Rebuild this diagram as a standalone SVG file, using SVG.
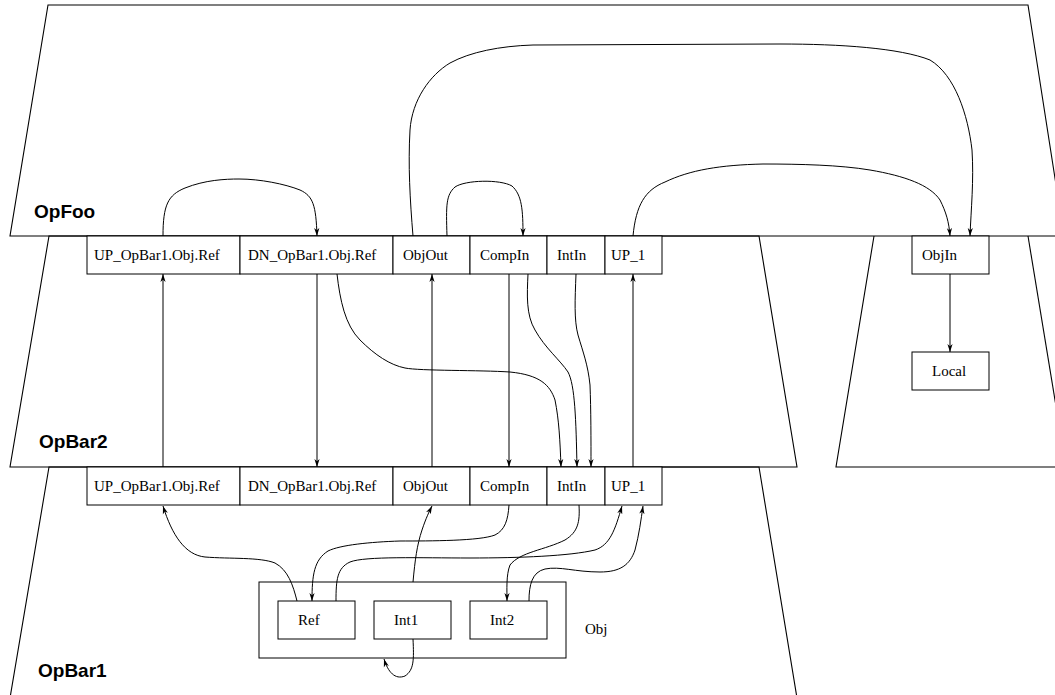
<svg xmlns="http://www.w3.org/2000/svg" width="1055" height="695" viewBox="0 0 1055 695">
<style>
.frame{fill:none;stroke:#000;stroke-width:1.1}
.box{fill:#fff;stroke:#000;stroke-width:1}
.t{font-family:"Liberation Serif","Times New Roman",serif;font-size:15px;fill:#000}
.lbl{font-family:"Liberation Sans",Arial,sans-serif;font-size:19px;font-weight:bold;fill:#000}
.c{fill:none;stroke:#000;stroke-width:1;marker-end:url(#ah)}
</style>
<defs>
<marker id="ah" markerUnits="userSpaceOnUse" markerWidth="10" markerHeight="8" refX="8" refY="3" orient="auto">
<path d="M0,0.4 L8,3 L0,5.6 L2.2,3 Z" fill="#000"/>
</marker>
</defs>
<rect width="1055" height="695" fill="#fff"/>
<g id="opfoo">
<polyline class="frame" points="1064,236 1028,5 48,5 10,236 1055,236"/>
<text class="lbl" x="34" y="218">OpFoo</text>
</g>
<g id="opbar2">
<polygon class="frame" points="49,236 759,236 797,467 10,467"/>
<text class="lbl" x="39" y="448">OpBar2</text>
</g>
<g id="opright">
<polyline class="frame" points="874,236 836,467 1055,467"/>
<polyline class="frame" points="1028,236 1066,467"/>
</g>
<g id="opbar1">
<polygon class="frame" points="49,467 759,467 797,698 10,698"/>
<text class="lbl" x="38" y="677">OpBar1</text>
</g>
<g id="connectors">
<path class="c" d="M163,236 C163,205 168,195 185,188 C205,180 225,179 239,179 C260,179 285,184 300,190 C313,196 316,205 317,236"/>
<path class="c" d="M413,236 C410,200 408,165 410,130 C412,100 430,75 450,63 C470,52 500,46 533,45 L780,44 C840,44 900,48 930,60 C955,75 968,115 972,150 C974,180 971,210 970,236"/>
<path class="c" d="M447,236 C446,205 446,195 455,187 C465,180 500,179 512,186 C522,195 523,210 523,236"/>
<path class="c" d="M633,236 C636,205 645,190 665,182 C690,170 720,165 763,164 C800,164 840,165 870,170 C905,176 930,185 940,200 C946,212 949,222 950,236"/>
<path class="c" d="M163,467 L163,274"/>
<path class="c" d="M317,274 L317,467"/>
<path class="c" d="M337,274 C340,300 345,325 360,340 C375,355 390,365 405,368 C420,371 480,370 510,372 C540,375 550,385 555,400 C559,420 560,440 561,467"/>
<path class="c" d="M432,467 L432,274"/>
<path class="c" d="M509,274 L509,467"/>
<path class="c" d="M528,274 C527,295 526,315 535,330 C545,348 560,360 568,372 C575,385 576,420 577,467"/>
<path class="c" d="M576,274 C575,300 574,320 578,335 C583,352 588,365 590,385 C591,410 591,440 591,467"/>
<path class="c" d="M633,467 L633,274"/>
<path class="c" d="M950,274 L950,352"/>
<path class="c" d="M297,601 C293,585 288,570 275,563 C260,557 230,559 205,557 C185,555 172,535 163,506"/>
<path class="c" d="M413,582 C415,560 417,545 422,530 C426,518 429,512 432,506"/>
<path class="c" d="M509,505 C508,520 505,530 495,535 C480,541 430,541 400,541 C370,542 340,545 328,551 C314,560 312,575 312,601"/>
<path class="c" d="M336,601 C336,580 337,568 350,562 C365,556 420,558 470,558 C520,558 570,556 595,550 C610,545 615,530 622,506"/>
<path class="c" d="M579,505 C580,522 578,532 565,540 C545,550 520,552 510,565 C506,575 507,590 507,601"/>
<path class="c" d="M529,601 C529,585 532,572 545,569 C560,566 575,572 600,572 C620,572 630,565 635,550 C639,535 641,520 643,506"/>
<path class="c" d="M413,639 C414,660 414,670 405,676 C395,680 388,672 384,659"/>
</g>
<g id="top-ports">
<g id="t-up"><rect class="box" x="87" y="236" width="153" height="38"/><text class="t" x="94" y="260">UP_OpBar1.Obj.Ref</text></g>
<g id="t-dn"><rect class="box" x="240" y="236" width="153" height="38"/><text class="t" x="248" y="260">DN_OpBar1.Obj.Ref</text></g>
<g id="t-objout"><rect class="box" x="393" y="236" width="77" height="38"/><text class="t" x="403" y="260">ObjOut</text></g>
<g id="t-compin"><rect class="box" x="470" y="236" width="77" height="38"/><text class="t" x="480" y="260">CompIn</text></g>
<g id="t-intin"><rect class="box" x="547" y="236" width="58" height="38"/><text class="t" x="557" y="260">IntIn</text></g>
<g id="t-up1"><rect class="box" x="605" y="236" width="57" height="38"/><text class="t" x="611" y="260">UP_1</text></g>
</g>
<g id="bottom-ports">
<g id="b-up"><rect class="box" x="87" y="467" width="153" height="38"/><text class="t" x="94" y="491">UP_OpBar1.Obj.Ref</text></g>
<g id="b-dn"><rect class="box" x="240" y="467" width="153" height="38"/><text class="t" x="248" y="491">DN_OpBar1.Obj.Ref</text></g>
<g id="b-objout"><rect class="box" x="393" y="467" width="77" height="38"/><text class="t" x="403" y="491">ObjOut</text></g>
<g id="b-compin"><rect class="box" x="470" y="467" width="77" height="38"/><text class="t" x="480" y="491">CompIn</text></g>
<g id="b-intin"><rect class="box" x="547" y="467" width="58" height="38"/><text class="t" x="557" y="491">IntIn</text></g>
<g id="b-up1"><rect class="box" x="605" y="467" width="57" height="38"/><text class="t" x="611" y="491">UP_1</text></g>
</g>
<g id="objin"><rect class="box" x="912" y="236" width="77" height="38"/><text class="t" x="922" y="260">ObjIn</text></g>
<g id="local"><rect class="box" x="912" y="352" width="77" height="38"/><text class="t" x="932" y="376">Local</text></g>
<g id="obj">
<rect x="259" y="582" width="307" height="76" fill="none" stroke="#000" stroke-width="1"/>
<text class="t" x="585" y="634">Obj</text>
</g>
<g id="ref"><rect class="box" x="278" y="601" width="77" height="38"/><text class="t" x="298" y="625">Ref</text></g>
<g id="int1"><rect class="box" x="374" y="601" width="77" height="38"/><text class="t" x="394" y="625">Int1</text></g>
<g id="int2"><rect class="box" x="470" y="601" width="77" height="38"/><text class="t" x="490" y="625">Int2</text></g>
</svg>
